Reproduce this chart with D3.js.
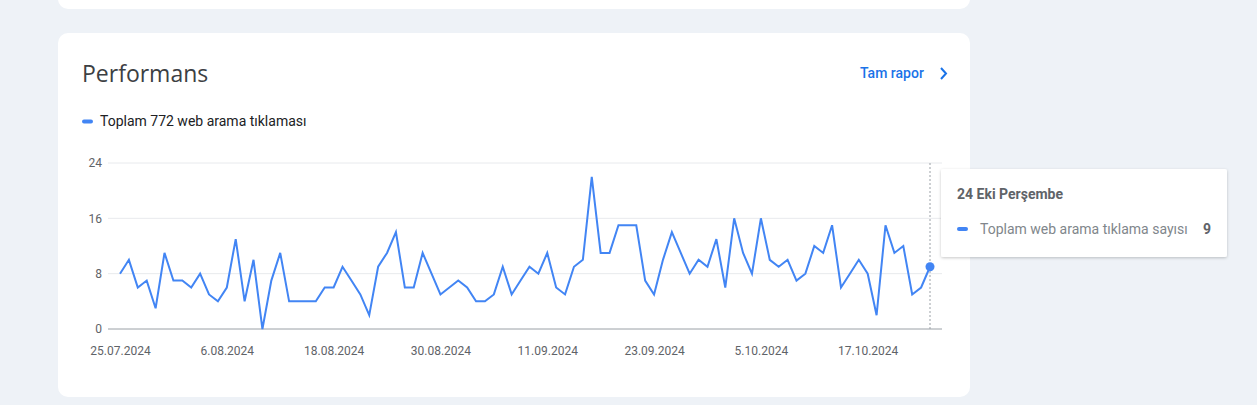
<!DOCTYPE html>
<html><head><meta charset="utf-8">
<script src="https://cdn.jsdelivr.net/npm/d3@7"></script>
<style>
html,body{margin:0;padding:0;background:#eef2f7;}
svg{display:block;}
</style></head>
<body>
<svg id="c" width="1257" height="405"></svg>
<script>
const startDate = "2024-07-25";
const clicks = [8,10,6,7,3,11,7,7,6,8,5,4,6,13,4,10,0,7,11,4,
  4,4,4,6,6,9,7,5,2,9,11,14,6,6,11,8,5,6,7,6,4,4,5,
  9,5,7,9,8,11,6,5,9,10,22,11,11,15,15,15,7,5,10,14,11,8,10,
  9,13,6,16,11,8,16,10,9,10,7,8,12,11,15,6,8,10,8,2,15,11,12,5,6,9];
const yTicks = [0,8,16,24];
const xTickLabels = ["25.07.2024","6.08.2024","18.08.2024","30.08.2024","11.09.2024","23.09.2024","5.10.2024","17.10.2024"];
const titleText = "Performans";
const legendText = "Toplam 772 web arama tıklaması";
const linkText = "Tam rapor";
const tipTitle = "24 Eki Perşembe";
const tipLabel = "Toplam web arama tıklama sayısı";

const parse = d3.timeParse("%Y-%m-%d");
const d0 = parse(startDate);
const data = clicks.map((v,i)=>({date:d3.timeDay.offset(d0,i), v}));

const svg = d3.select("#c");
const font = "Roboto, 'Noto Sans', sans-serif";

// cards
svg.append("rect").attr("x",58).attr("y",-20).attr("width",912).attr("height",29).attr("rx",10).attr("fill","#fff");
svg.append("rect").attr("x",58).attr("y",33).attr("width",912).attr("height",364).attr("rx",10).attr("fill","#fff");

svg.append("text").attr("x",82).attr("y",82).text(titleText)
  .attr("font-family","'Open Sans', Roboto, sans-serif").attr("font-size",23).attr("fill","#3c4043");

svg.append("text").attr("x",860).attr("y",78).text(linkText)
  .attr("font-family",font).attr("font-size",14).attr("font-weight",500).attr("fill","#1a73e8");
svg.append("path").attr("d","M941,68 L946,73.5 L941,79").attr("fill","none").attr("stroke","#1a73e8").attr("stroke-width",2);

svg.append("rect").attr("x",82).attr("y",119.5).attr("width",11).attr("height",4).attr("rx",2).attr("fill","#4285f4");
svg.append("text").attr("x",100).attr("y",126).text(legendText)
  .attr("font-family",font).attr("font-size",14).attr("fill","#202124");

const x = d3.scaleTime().domain([data[0].date, data[data.length-1].date]).range([120,930]);
const y = d3.scaleLinear().domain([0,24]).range([329,163]);

const g = svg.append("g");
// grid
g.selectAll("line.grid").data(yTicks.filter(t=>t>0)).join("line")
  .attr("x1",108).attr("x2",942).attr("y1",d=>y(d)).attr("y2",d=>y(d))
  .attr("stroke","#e8eaed").attr("stroke-width",1);
g.append("line").attr("x1",108).attr("x2",942).attr("y1",y(0)).attr("y2",y(0))
  .attr("stroke","#9aa0a6").attr("stroke-width",1);

const yAxis = d3.axisLeft(y).tickValues(yTicks).tickSize(0).tickPadding(0);
const ya = g.append("g").attr("transform","translate(102,0)").call(yAxis);
ya.select(".domain").remove();
ya.selectAll("text").attr("font-family",font).attr("font-size",12).attr("fill","#5f6368");

const xTickDates = xTickLabels.map((_,i)=>data[i*12].date);
const xAxis = d3.axisBottom(x).tickValues(xTickDates).tickSize(0).tickPadding(0)
  .tickFormat((d,i)=>xTickLabels[i]);
const xa = g.append("g").attr("transform","translate(0,346)").call(xAxis);
xa.select(".domain").remove();
xa.selectAll("text").attr("font-family",font).attr("font-size",12).attr("fill","#5f6368");

// hover line
const last = data[data.length-1];
g.append("line").attr("x1",x(last.date)).attr("x2",x(last.date)).attr("y1",y(24)).attr("y2",y(0))
  .attr("stroke","#9aa0a6").attr("stroke-width",1).attr("stroke-dasharray","2,2");

const line = d3.line().x(d=>x(d.date)).y(d=>y(d.v));
g.append("path").datum(data).attr("d",line).attr("fill","none")
  .attr("stroke","#4285f4").attr("stroke-width",2).attr("stroke-linejoin","miter");
g.append("circle").attr("cx",x(last.date)).attr("cy",y(last.v)).attr("r",4.5).attr("fill","#4285f4");

// tooltip
const defs = svg.append("defs");
const f = defs.append("filter").attr("id","sh").attr("x","-10%").attr("y","-20%").attr("width","120%").attr("height","150%");
f.append("feDropShadow").attr("dx",0).attr("dy",1).attr("stdDeviation",1.5).attr("flood-color","#000").attr("flood-opacity",0.22);
svg.append("rect").attr("x",941).attr("y",169).attr("width",286).attr("height",88).attr("rx",2)
  .attr("fill","#fff").attr("filter","url(#sh)");
svg.append("text").attr("x",957).attr("y",199).text(tipTitle)
  .attr("font-family",font).attr("font-size",14).attr("font-weight",700).attr("fill","#5f6368");
svg.append("rect").attr("x",957).attr("y",227).attr("width",11).attr("height",4).attr("rx",2).attr("fill","#4285f4");
svg.append("text").attr("x",980).attr("y",234).text(tipLabel)
  .attr("font-family",font).attr("font-size",14).attr("fill","#80868b");
svg.append("text").attr("x",1211).attr("y",234).attr("text-anchor","end").text(last.v)
  .attr("font-family",font).attr("font-size",14).attr("font-weight",700).attr("fill","#5f6368");
</script>
</body></html>
